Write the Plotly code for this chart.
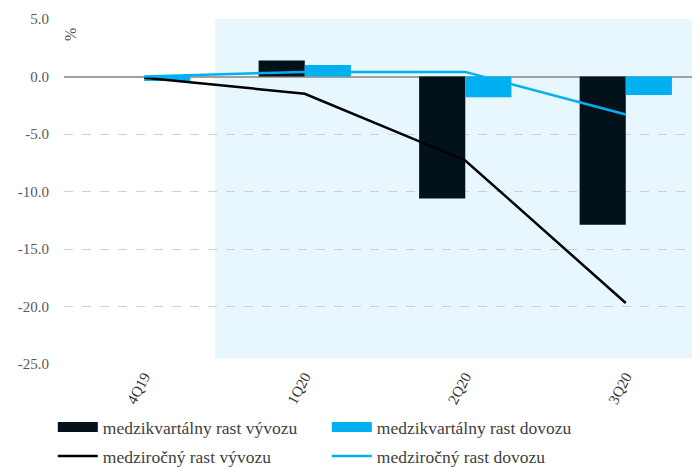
import plotly.graph_objects as go

categories = ["4Q19", "1Q20", "2Q20", "3Q20"]
qoq_export = [0.0, 1.4, -10.6, -12.9]
qoq_import = [-0.4, 1.0, -1.8, -1.6]
yoy_export = [-0.1, -1.5, -7.3, -19.7]
yoy_import = [0.0, 0.4, 0.4, -3.3]
y_ticks = [5, 0, -5, -10, -15, -20, -25]
y_tick_labels = ["5.0", "0.0", "-5.0", "-10.0", "-15.0", "-20.0", "-25.0"]
names = ["medzikvartálny rast vývozu", "medzikvartálny rast dovozu",
         "medziročný rast vývozu", "medziročný rast dovozu"]

FONT = "Liberation Serif"
BLACK = "#02111a"
BLUE = "#00b0f0"

fig = go.Figure()
fig.add_trace(go.Bar(x=categories, y=qoq_export, name=names[0], showlegend=False,
                     marker=dict(color=BLACK, line=dict(width=0))))
fig.add_trace(go.Bar(x=categories, y=qoq_import, name=names[1], showlegend=False,
                     marker=dict(color=BLUE, line=dict(width=0))))
fig.add_trace(go.Scatter(x=categories, y=yoy_export, name=names[2], legend="legend2",
                         mode="lines", line=dict(color="#000000", width=2.5)))
fig.add_trace(go.Scatter(x=categories, y=yoy_import, name=names[3], legend="legend2",
                         mode="lines", line=dict(color=BLUE, width=2.5)))
# legend-only entries giving the wide rectangular swatches of the bar series
fig.add_trace(go.Scatter(x=[None], y=[None], name=names[0], legend="legend",
                         mode="lines", line=dict(color=BLACK, width=10), hoverinfo="skip"))
fig.add_trace(go.Scatter(x=[None], y=[None], name=names[1], legend="legend",
                         mode="lines", line=dict(color=BLUE, width=10), hoverinfo="skip"))

fig.add_shape(type="rect", xref="x", yref="y", x0=0.44, x1=3.45, y0=-24.5, y1=5,
              fillcolor="#e8f6fd", line=dict(width=0), layer="below")

fig.add_annotation(text="%", xref="paper", yref="paper", x=-0.006, y=0.98,
                   showarrow=False, textangle=-90,
                   font=dict(family=FONT, size=16, color="#595959"))

legend_common = dict(orientation="h", xref="container", yref="container",
                     x=0.064, xanchor="left", yanchor="middle",
                     entrywidth=219, entrywidthmode="pixels",
                     font=dict(family=FONT, size=17.5, color="#404040"),
                     itemwidth=40, tracegroupgap=0, bgcolor="rgba(0,0,0,0)")

fig.update_layout(
    width=700, height=468,
    margin=dict(l=56, r=10, t=11, b=112, autoexpand=False),
    paper_bgcolor="white", plot_bgcolor="white",
    barmode="group", bargap=0.425, bargroupgap=0,
    font=dict(family=FONT, size=14, color="#595959"),
    showlegend=True,
    legend=dict(legend_common, y=1 - 419 / 468),
    legend2=dict(legend_common, y=1 - 448 / 468),
    xaxis=dict(range=[-0.5, 3.45], tickangle=-62, showgrid=False, showline=False,
               ticks="", tickfont=dict(family=FONT, size=15, color="#333333")),
    yaxis=dict(range=[-25, 5], tickvals=y_ticks, ticktext=y_tick_labels,
               showgrid=True, gridcolor="#d0d0d0", griddash="dash", gridwidth=1,
               zeroline=True, zerolinecolor="#a0a0a0", zerolinewidth=1.5,
               ticks="", showline=False, ticklabelstandoff=14,
               tickfont=dict(family=FONT, size=15, color="#595959")),
)

fig.write_html("out.html")
